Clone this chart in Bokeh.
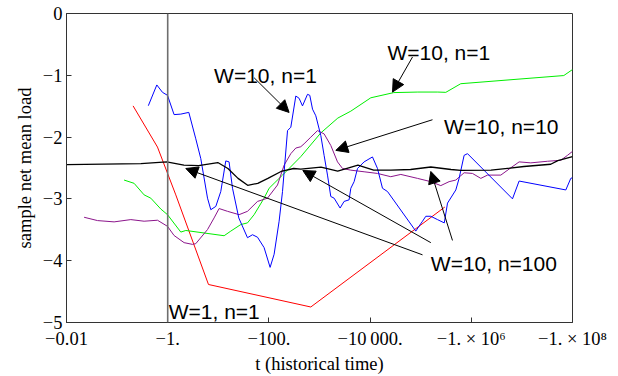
import numpy as np
from bokeh.plotting import figure
from bokeh.models import Range1d, FixedTicker, Span, Arrow, NormalHead, Label
from bokeh.embed import file_html
from bokeh.resources import INLINE

# ---- axis ticks -------------------------------------------------------
x_tick_values = [1e-2, 1e0, 1e2, 1e4, 1e6, 1e8]
x_tick_labels = ["\u22120.01", "\u22121.", "\u2212100.", "\u221210\u2009000.",
                 "\u22121. \u00d7 10\u2076", "\u22121. \u00d7 10\u2078"]
y_tick_values = [0, -1, -2, -3, -4, -5]
y_tick_labels = ["0", "\u22121", "\u22122", "\u22123", "\u22124", "\u22125"]

# ---- series: log10(|t|) and sample net mean load ----------------------
red_logt = [-0.684, -0.202, 0.160, 0.806, 2.828, 5.476]
red_load = [-1.495, -2.161, -2.935, -4.385, -4.749, -3.132]

green_logt = [-0.862, -0.664, -0.466, -0.334, -0.136, -0.004, 0.259, 0.358, 1.115, 1.247,
              1.445, 1.577, 1.708, 1.905, 2.004, 2.103, 2.269, 2.399, 2.630, 3.026,
              3.362, 3.619, 4.014, 4.468, 4.943, 5.338, 5.496, 5.792, 7.828, 8.0]
green_load = [-2.695, -2.748, -2.935, -2.988, -3.164, -3.255, -3.537, -3.511, -3.596, -3.521,
              -3.415, -3.388, -3.255, -2.988, -2.828, -2.748, -2.615, -2.508, -2.316, -1.932,
              -1.692, -1.580, -1.364, -1.280, -1.271, -1.271, -1.276, -1.136, -1.004, -0.907]

purple_logt = [-1.652, -1.387, -1.059, -0.729, -0.466, -0.202, -0.004, 0.126, 0.324, 0.490,
               0.555, 0.787, 0.917, 1.016, 1.182, 1.411, 1.577, 1.775, 1.972, 2.170,
               2.300, 2.433, 2.532, 2.630, 2.696, 2.828, 2.960, 3.091, 3.223, 3.356,
               3.455, 3.619, 3.881, 4.146, 4.409, 4.607, 4.937, 5.200, 5.397, 5.561,
               5.694, 5.858, 6.024, 6.188, 6.320, 6.583, 6.781, 6.945, 7.176, 7.506,
               7.769, 7.901, 8.0]
purple_load = [-3.297, -3.351, -3.372, -3.335, -3.361, -3.345, -3.444, -3.592, -3.708, -3.736,
               -3.724, -3.496, -3.308, -3.156, -3.201, -3.255, -3.201, -3.041, -2.988, -2.775,
               -2.455, -2.268, -2.177, -2.156, -2.108, -2.001, -1.895, -1.948, -2.135, -2.401,
               -2.508, -2.535, -2.561, -2.588, -2.641, -2.604, -2.668, -2.721, -2.785, -2.721,
               -2.695, -2.577, -2.588, -2.668, -2.615, -2.615, -2.497, -2.401, -2.417, -2.391,
               -2.375, -2.295, -2.231]

blue_logt = [-0.383, -0.215, -0.103, -0.004, 0.126, 0.259, 0.417, 0.555, 0.654, 0.787, 0.852,
             0.951, 1.049, 1.148, 1.213, 1.281, 1.405,
             1.577, 1.676, 1.775, 1.905, 2.024, 2.103, 2.202, 2.269,
             2.368, 2.433, 2.532, 2.597, 2.664, 2.763, 2.808, 2.862, 2.927,
             3.026, 3.091, 3.158, 3.223, 3.289, 3.407, 3.486, 3.585, 3.619, 3.684, 3.751, 3.881,
             4.047, 4.146, 4.245, 4.344,
             4.903, 4.968, 5.036, 5.101, 5.200, 5.332, 5.466, 5.530, 5.694, 5.759, 5.858, 5.925,
             6.814, 6.945, 7.868, 7.966, 8.0]
blue_load = [-1.492, -1.156, -1.276, -1.324, -1.636, -1.628, -1.600, -2.028, -2.348, -2.988, -3.175,
             -3.121, -2.881, -2.385, -2.401, -2.828, -3.308,
             -3.628, -3.580, -3.620, -3.788, -4.108, -3.896, -3.361, -2.881,
             -1.895, -1.841, -1.335, -1.372, -1.495, -1.308, -1.324, -1.548, -1.655,
             -1.975, -2.295, -2.615, -2.961, -2.988, -3.148, -3.041, -3.015, -2.828, -2.721, -2.508, -2.401,
             -2.321, -2.508, -2.828, -2.881,
             -3.521, -3.441, -3.361, -3.281, -3.281, -3.335, -3.388, -3.068, -2.855, -2.668, -2.295, -2.268,
             -2.999, -2.711, -2.855, -2.668, -2.657]

black_logt = [-2.0, -0.53, -0.02, 0.32, 0.61, 0.99, 1.19, 1.39, 1.58, 1.78, 1.98, 2.24, 2.49, 2.63,
              3.03, 3.36, 3.76, 4.07, 4.41, 4.80, 5.20, 5.60, 5.79, 6.39, 7.04, 7.57, 7.71, 8.0]
black_load = [-2.444, -2.428, -2.401, -2.455, -2.460, -2.412, -2.508, -2.668, -2.780, -2.748,
              -2.668, -2.556, -2.508, -2.519, -2.487, -2.551, -2.455, -2.535, -2.535, -2.524,
              -2.484, -2.524, -2.540, -2.535, -2.476, -2.439, -2.380, -2.316]

ref_t = 1.0  # vertical reference line at t = -1

# ---- annotation texts and arrows (log10|t|, load) ----------------------
label_specs = [("W=10, n=1", 0.917, -1.004),
               ("W=10, n=1", 4.344, -0.624),
               ("W=10, n=10", 5.462, -1.831),
               ("W=10, n=100", 5.200, -4.045),
               ("W=1, n=1", 0.02, -4.818)]
arrow_specs = [(1.708, -1.040, 2.399, -1.601),
               (4.838, -0.704, 4.443, -1.271),
               (5.233, -1.719, 3.322, -2.215),
               (5.036, -3.905, 0.358, -2.508),
               (5.200, -3.708, 2.670, -2.540),
               (5.628, -3.672, 5.200, -2.556)]

SERIF = "Liberation Serif"
SANS = "Liberation Sans"

p = figure(width=618, height=376, x_axis_type="log",
           x_range=Range1d(1e-2, 1e8), y_range=Range1d(-5, 0),
           output_backend="svg", toolbar_location=None,
           min_border_left=66, min_border_right=46, min_border_top=13, min_border_bottom=50)
p.grid.visible = False
p.background_fill_color = "white"
p.border_fill_color = "white"
p.outline_line_color = "#333333"
p.outline_line_width = 1

def tt(lst):
    return 10 ** np.asarray(lst, dtype=float)

p.line(tt(red_logt), red_load, line_color="#ff0000", line_width=1)
p.line(tt(green_logt), green_load, line_color="#00ee00", line_width=1)
p.line(tt(purple_logt), purple_load, line_color="#8b158b", line_width=1)
p.line(tt(blue_logt), blue_load, line_color="#0000ff", line_width=1)
p.line(tt(black_logt), black_load, line_color="#000000", line_width=1.3)

p.add_layout(Span(location=ref_t, dimension="height", line_color="#6e6e6e", line_width=1.6))

for txt, lx, ly in label_specs:
    p.add_layout(Label(x=10 ** lx, y=ly, text=txt, text_font=SANS, text_font_size="21px",
                       text_color="black", text_align="left", text_baseline="alphabetic"))

for xs, ys, xe, ye in arrow_specs:
    p.add_layout(Arrow(end=NormalHead(size=12, fill_color="black", line_color="black"),
                       x_start=10 ** xs, y_start=ys, x_end=10 ** xe, y_end=ye,
                       line_color="black", line_width=1))

# axes
xa = p.xaxis[0]
xa.ticker = FixedTicker(ticks=x_tick_values)
xa.major_label_overrides = {v: s for v, s in zip(x_tick_values, x_tick_labels)}
xa.axis_label = "t (historical time)"
ya = p.yaxis[0]
ya.ticker = FixedTicker(ticks=y_tick_values)
ya.major_label_overrides = {v: s for v, s in zip(y_tick_values, y_tick_labels)}
ya.axis_label = "sample net mean load"

for ax in (xa, ya):
    ax.major_tick_in = 5
    ax.major_tick_out = 0
    ax.minor_tick_in = 0
    ax.minor_tick_out = 0
    ax.axis_line_color = "#333333"
    ax.major_tick_line_color = "#333333"
    ax.major_label_text_font = SERIF
    ax.major_label_text_font_size = "18.5px"
    ax.major_label_text_color = "black"
    ax.axis_label_text_font = SERIF
    ax.axis_label_text_font_size = "18.5px"
    ax.axis_label_text_font_style = "normal"
    ax.axis_label_text_color = "black"
xa.major_label_standoff = 6
xa.axis_label_standoff = 2
ya.major_label_standoff = 4
ya.axis_label_standoff = 5

open("out.html", "w").write(file_html(p, INLINE))
